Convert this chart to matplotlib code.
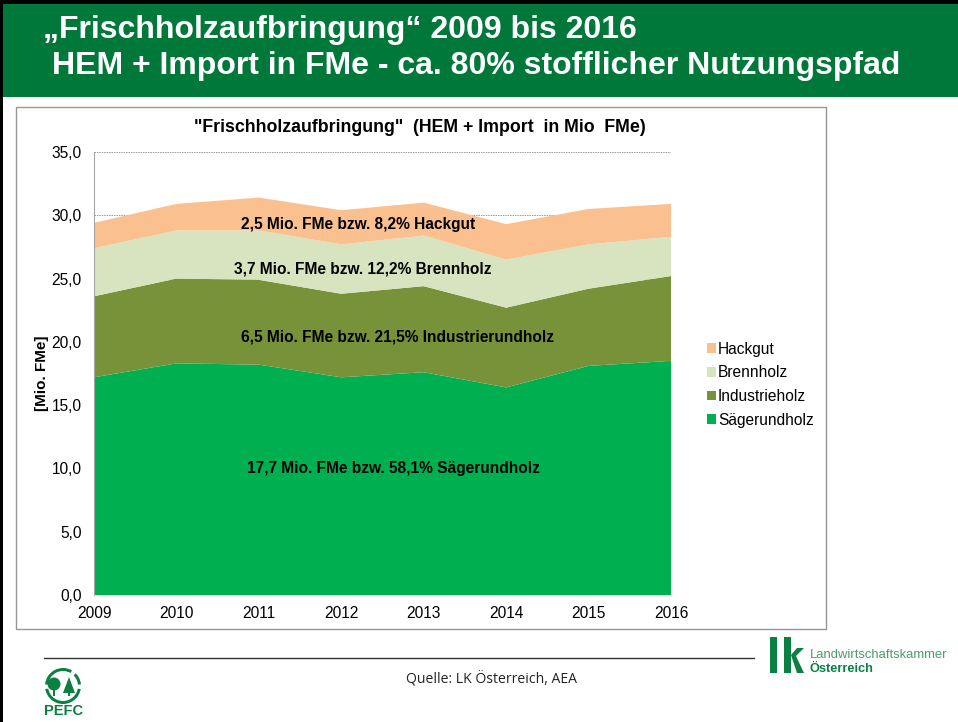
#!/usr/bin/env python3
"""Frischholzaufbringung 2009-2016 slide: stacked area chart with header and logos."""

import matplotlib
matplotlib.use("Agg")
import matplotlib.pyplot as plt
from matplotlib.patches import Rectangle, Circle, Wedge, Polygon

W, H = 958, 722

years = [2009, 2010, 2011, 2012, 2013, 2014, 2015, 2016]
saegerundholz = [17.2, 18.3, 18.2, 17.2, 17.6, 16.4, 18.1, 18.5]
industrieholz = [6.4, 6.7, 6.7, 6.6, 6.8, 6.3, 6.1, 6.7]
brennholz = [3.8, 3.8, 3.9, 3.9, 4.0, 3.8, 3.5, 3.1]
hackgut = [2.0, 2.1, 2.6, 2.7, 2.6, 2.8, 2.8, 2.6]

series_names = ["Sägerundholz", "Industrieholz", "Brennholz", "Hackgut"]
series_colors = ["#00AF50", "#78923A", "#D8E3BF", "#FBC08F"]
y_ticks = [0, 5, 10, 15, 20, 25, 30, 35]

annotations = [
    (358, 224, "2,5 Mio. FMe bzw. 8,2% Hackgut"),
    (363, 269, "3,7 Mio. FMe bzw. 12,2% Brennholz"),
    (398, 337, "6,5 Mio. FMe bzw. 21,5% Industrierundholz"),
    (393, 468, "17,7 Mio. FMe bzw. 58,1% Sägerundholz"),
]

GREEN = "#00783A"
LOGO = "#0B8043"
ARIAL = "Liberation Sans"


def px_axes(fig, left, top, right, bottom):
    return fig.add_axes([left / W, 1 - bottom / H, (right - left) / W, (bottom - top) / H])


fig = plt.figure(figsize=(W / 100, H / 100), dpi=100, facecolor="white")

# overlay in pixel coordinates for the slide furniture
bg = fig.add_axes([0, 0, 1, 1])
bg.set_xlim(0, W)
bg.set_ylim(H, 0)
bg.axis("off")

bg.add_patch(Rectangle((0, 0), W, 4, color="black", lw=0))
bg.add_patch(Rectangle((0, 0), 3, H, color="black", lw=0))
bg.add_patch(Rectangle((3, 4), W - 3, 93, color=GREEN, lw=0))
bg.text(43, 30, "„Frischholzaufbringung“ 2009 bis 2016", color="white", fontsize=23,
        fontweight="bold", family=ARIAL, va="center")
bg.text(52, 66, "HEM + Import in FMe - ca. 80% stofflicher Nutzungspfad", color="white",
        fontsize=23, fontweight="bold", family=ARIAL, va="center")

# chart frame
bg.add_patch(Rectangle((16, 107), 810, 522, fc="white", ec="#969696", lw=1))
bg.text(420, 128, '"Frischholzaufbringung"  (HEM + Import  in Mio  FMe)', fontsize=12.8,
        fontweight="bold", family=ARIAL, ha="center", va="center")

# footer
bg.plot([44, 754], [658, 658], color="#333333", lw=1)
bg.text(492, 679, "Quelle: LK Österreich, AEA", fontsize=10.1, family="Open Sans",
        ha="center", va="center", color="#222222")

# LK logo
bg.add_patch(Rectangle((770, 637), 7, 36, color=LOGO, lw=0))
bg.add_patch(Rectangle((784, 637), 7, 36, color=LOGO, lw=0))
bg.add_patch(Polygon([(791, 655), (797, 648), (804, 648), (796, 656), (804, 673), (797, 673)],
                     color=LOGO, lw=0))
bg.text(810, 655, "Landwirtschaftskammer", fontsize=9.4, family=ARIAL, color="#4E9A6C",
        va="center")
bg.text(810, 669, "Österreich", fontsize=9.2, family=ARIAL, fontweight="bold", color=LOGO,
        va="center")

# PEFC logo
bg.add_patch(Wedge((63, 686), 18, 185, 300, width=3, color=LOGO, lw=0))
bg.add_patch(Wedge((63, 686), 18, 315, 355, width=3, color=LOGO, lw=0))
bg.add_patch(Wedge((63, 686), 18, 10, 170, width=3, color=LOGO, lw=0))
bg.add_patch(Circle((54, 684), 6.5, color=LOGO, lw=0))
bg.add_patch(Rectangle((53, 688), 2, 8, color=LOGO, lw=0))
bg.add_patch(Polygon([(69, 677), (75, 693), (63, 693)], color=LOGO, lw=0))
bg.add_patch(Rectangle((68, 692), 2, 4, color=LOGO, lw=0))
bg.text(64, 711, "PEFC", fontsize=10.5, fontweight="bold", family=ARIAL, color=LOGO,
        ha="center", va="center")

# stacked area chart
ax = px_axes(fig, 94, 152, 671, 595)
ax.patch.set_alpha(0)
ax.stackplot(years, saegerundholz, industrieholz, brennholz, hackgut,
             labels=series_names, colors=series_colors, lw=0, zorder=2)
ax.set_xlim(years[0], years[-1])
ax.set_ylim(0, 35)
ax.set_yticks(y_ticks)
ax.set_yticklabels([f"{v:.1f}".replace(".", ",") for v in y_ticks], fontsize=11.2, family=ARIAL)
ax.set_xticks(years)
ax.set_xticklabels(years, fontsize=11.2, family=ARIAL)
ax.tick_params(axis="y", length=0, pad=9)
ax.tick_params(axis="x", length=0, pad=8)
ax.grid(axis="y", color="#999999", lw=0.7, ls=(0, (1.5, 1)), zorder=1)
ax.set_axisbelow(True)
for side in ("top", "right", "bottom"):
    ax.spines[side].set_visible(False)
ax.spines["left"].set_color("#A6A6A6")
ax.spines["left"].set_linewidth(0.8)
ax.set_ylabel("[Mio. FMe]", fontsize=11, fontweight="bold", family=ARIAL, labelpad=2)

handles, labels = ax.get_legend_handles_labels()
ax.legend(handles[::-1], labels[::-1], loc="center left", bbox_to_anchor=(1.038, 0.475),
          frameon=False, prop={"family": ARIAL, "size": 11.2},
          handlelength=0.58, handleheight=0.58, handletextpad=0.12, labelspacing=0.56)

# labels on top of everything
top = fig.add_axes([0, 0, 1, 1])
top.set_xlim(0, W)
top.set_ylim(H, 0)
top.axis("off")
for x, y, s in annotations:
    top.text(x, y, s, fontsize=11.2, fontweight="bold", family=ARIAL, ha="center", va="center")

fig.savefig("out.png", dpi=100)
